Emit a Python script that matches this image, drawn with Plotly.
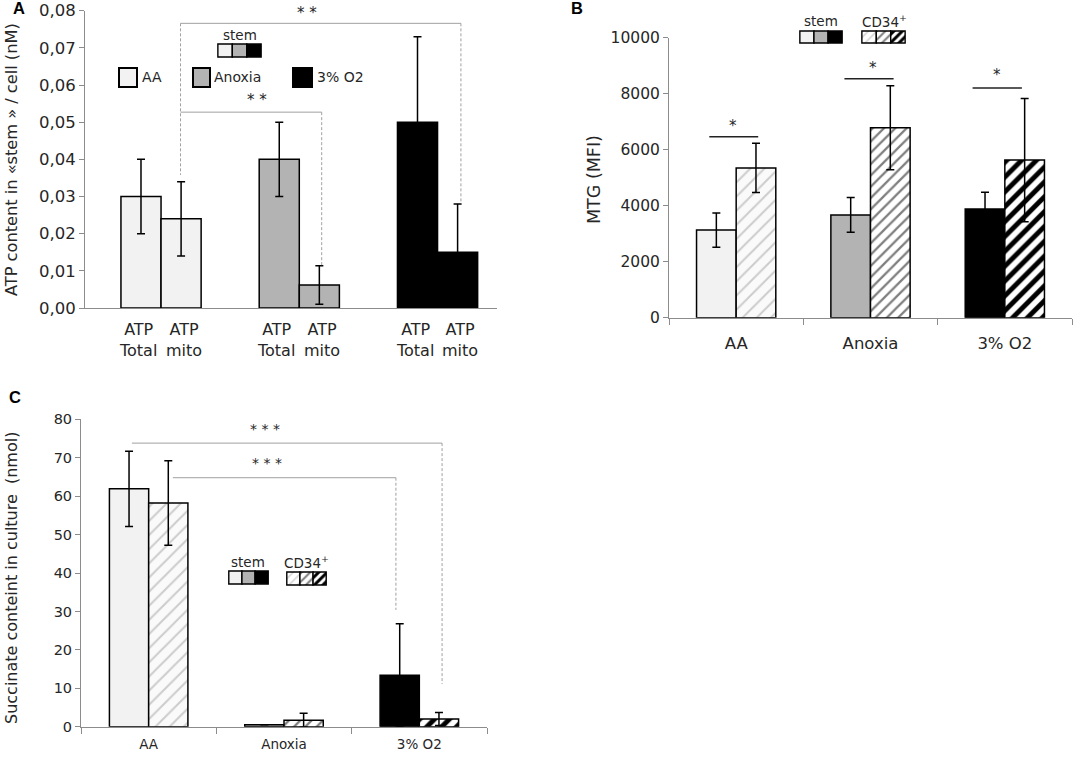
import plotly.graph_objects as go

W, H = 1077, 760

# ---------------- data ----------------
conditions = ["AA", "Anoxia", "3% O2"]

# panel A: ATP content in stem cells
atp_total = [0.030, 0.040, 0.050]
atp_total_err = [0.010, 0.010, 0.023]
atp_mito = [0.024, 0.0062, 0.015]
atp_mito_err = [0.010, 0.0052, 0.013]
atp_ticks = [0, 0.01, 0.02, 0.03, 0.04, 0.05, 0.06, 0.07, 0.08]

# panel B: MTG (MFI)
mtg_stem = [3130, 3670, 3880]
mtg_stem_err = [610, 620, 600]
mtg_cd34 = [5350, 6780, 5630]
mtg_cd34_err = [880, 1500, 2200]
mtg_ticks = [0, 2000, 4000, 6000, 8000, 10000]

# panel C: succinate content
succ_stem = [61.9, 0.5, 13.4]
succ_stem_err = [9.8, 0, 13.4]
succ_cd34 = [58.2, 1.7, 2.0]
succ_cd34_err = [11.0, 1.8, 1.7]
succ_ticks = [0, 10, 20, 30, 40, 50, 60, 70, 80]

# legend swatch cells
swatch_cells = [0, 1, 2]
swatch_fill = [1, 1, 1]

stem_colors = ["#f2f2f2", "#b3b3b3", "#000000"]
hatch_colors = ["#cccccc", "#7f7f7f", "#000000"]
hatch_bg = ["#fafafa", "#ffffff", "#ffffff"]
hatch_size = [10, 8, 10.5]
hatch_solid = [0.2, 0.28, 0.47]

FONT = "DejaVu Sans"
TXT = "#262626"
AXC = "#8c8c8c"
SIGC = "#a0a0a0"


def fx(p):
    return p / W


def fy(p):
    return 1 - p / H


bar_line = dict(color="black", width=1.5)
err = lambda a: dict(type="data", array=a, color="black", thickness=1.5, width=4)
hatch = dict(shape="/", fgcolor=hatch_colors, bgcolor=hatch_bg, size=hatch_size,
             solidity=hatch_solid, fgopacity=1)

fig = go.Figure()

# ---- A ----
fig.add_trace(go.Bar(x=conditions, y=atp_total, offset=-0.29, width=0.29,
                     marker=dict(color=stem_colors, line=bar_line),
                     error_y=err(atp_total_err), xaxis="x", yaxis="y"))
fig.add_trace(go.Bar(x=conditions, y=atp_mito, offset=0, width=0.29,
                     marker=dict(color=stem_colors, line=bar_line),
                     error_y=err(atp_mito_err), xaxis="x", yaxis="y"))

# ---- B ----
fig.add_trace(go.Bar(x=conditions, y=mtg_stem, offset=-0.295, width=0.295,
                     marker=dict(color=stem_colors, line=bar_line),
                     error_y=err(mtg_stem_err), xaxis="x2", yaxis="y2"))
fig.add_trace(go.Bar(x=conditions, y=mtg_cd34, offset=0, width=0.295,
                     marker=dict(color="white", line=bar_line, pattern=hatch),
                     error_y=err(mtg_cd34_err), xaxis="x2", yaxis="y2"))

# ---- C ----
fig.add_trace(go.Bar(x=conditions, y=succ_stem, offset=-0.29, width=0.29,
                     marker=dict(color=stem_colors, line=bar_line),
                     error_y=err(succ_stem_err), xaxis="x3", yaxis="y3"))
fig.add_trace(go.Bar(x=conditions, y=succ_cd34, offset=0, width=0.29,
                     marker=dict(color="white", line=bar_line, pattern=hatch),
                     error_y=err(succ_cd34_err), xaxis="x3", yaxis="y3"))

# ---- legend swatches (small bar strips) ----
swatches = [
    # (x0, x1, y0, y1, hatched)
    (217, 262, 43, 58, False),
    (799, 843, 30, 44, False),
    (861, 906, 30, 44, True),
    (228, 269, 570, 585, False),
    (286, 327, 571, 586, True),
]
layout_axes = {}
for i, (x0, x1, y0, y1, hatched) in enumerate(swatches):
    n = i + 4
    if hatched:
        mk = dict(color="white", line=dict(color="black", width=1.4),
                  pattern=dict(shape="/", fgcolor=hatch_colors, bgcolor="white",
                               size=[6, 6, 6], solidity=[0.22, 0.35, 0.5], fgopacity=1))
    else:
        mk = dict(color=stem_colors, line=dict(color="black", width=1.4))
    fig.add_trace(go.Bar(x=swatch_cells, y=swatch_fill, width=1, offset=-0.5,
                         marker=mk, xaxis=f"x{n}", yaxis=f"y{n}"))
    layout_axes[f"xaxis{n}"] = dict(domain=[fx(x0), fx(x1)], range=[-0.56, 2.56],
                                    visible=False, anchor=f"y{n}", fixedrange=True)
    layout_axes[f"yaxis{n}"] = dict(domain=[fy(y1), fy(y0)], range=[-0.08, 1.08],
                                    visible=False, anchor=f"x{n}", fixedrange=True)

yax = dict(showline=True, linecolor=AXC, linewidth=1, ticks="outside", ticklen=5,
           tickcolor=AXC, showgrid=False, zeroline=False, automargin=False,
           tickfont=dict(family=FONT, size=16.5, color=TXT))
xax = dict(showline=True, linecolor=AXC, linewidth=1, showgrid=False, zeroline=False,
           automargin=False, tickfont=dict(family=FONT, size=16, color=TXT))

fig.update_layout(
    width=W, height=H,
    margin=dict(l=0, r=0, t=0, b=0, autoexpand=False),
    paper_bgcolor="white", plot_bgcolor="white",
    showlegend=False, barmode="overlay", separators=",.",
    font=dict(family=FONT, color=TXT),
    xaxis=dict(xax, domain=[fx(85), fx(497)], range=[-0.55, 2.43], anchor="y",
               showticklabels=False, ticks=""),
    yaxis=dict(yax, domain=[fy(308), fy(10.7)], range=[0, 0.08], tickvals=atp_ticks,
               tickformat=".2f", anchor="x"),
    xaxis2=dict(xax, domain=[fx(669), fx(1072)], range=[-0.5, 2.5], anchor="y2",
                tickson="boundaries", ticks="outside", ticklen=6, tickcolor=AXC,
                ticklabelstandoff=10, tickfont=dict(family=FONT, size=16.5, color=TXT)),
    yaxis2=dict(yax, domain=[fy(317.7), fy(37.7)], range=[0, 10000], tickvals=mtg_ticks,
                tickformat="d", anchor="x2", tickfont=dict(family=FONT, size=15.5, color=TXT)),
    xaxis3=dict(xax, domain=[fx(81), fx(487)], range=[-0.5, 2.5], anchor="y3",
                tickson="boundaries", ticks="outside", ticklen=6, tickcolor=AXC,
                ticklabelstandoff=5, tickfont=dict(family=FONT, size=13.5, color=TXT)),
    yaxis3=dict(yax, domain=[fy(726.7), fy(419.3)], range=[0, 80], tickvals=succ_ticks,
                anchor="x3", tickfont=dict(family=FONT, size=14.5, color=TXT)),
    **layout_axes,
)

shapes = []


def seg(xr, yr, x0, y0, x1, y1, color=SIGC, dash="solid", width=1):
    shapes.append(dict(type="line", xref=xr, yref=yr, x0=x0, y0=y0, x1=x1, y1=y1,
                       line=dict(color=color, width=width, dash=dash)))


D = "3px,2px"
# A brackets
seg("x", "y", 0.141, 0.0766, 2.169, 0.0766)
seg("x", "y", 0.141, 0.0766, 0.141, 0.0358, dash=D)
seg("x", "y", 2.169, 0.0766, 2.169, 0.0285, dash=D)
seg("x", "y", 0.141, 0.0527, 1.162, 0.0527)
seg("x", "y", 1.162, 0.0527, 1.162, 0.0113, dash=D)

# B brackets
seg("x2", "y2", -0.20, 6464, 0.164, 6464, color="#222222", width=1.5)
seg("x2", "y2", 0.806, 8536, 1.172, 8536, color="#222222", width=1.5)
seg("x2", "y2", 1.76, 8200, 2.127, 8200, color="#222222", width=1.5)

# C brackets
seg("x3", "y3", -0.124, 73.8, 2.168, 73.8)
seg("x3", "y3", 2.168, 73.8, 2.168, 11.1, dash=D)
seg("x3", "y3", 0.179, 64.8, 1.827, 64.8)
seg("x3", "y3", 1.827, 64.8, 1.827, 30.4, dash=D)

# A legend squares
for (x0, x1), col in zip([(119, 137), (193, 210), (293, 312)], stem_colors):
    shapes.append(dict(type="rect", xref="paper", yref="paper",
                       x0=fx(x0), x1=fx(x1), y0=fy(87), y1=fy(68),
                       fillcolor=col, line=dict(color="black", width=2)))

fig.update_layout(shapes=shapes)

ann = []


def txt(x, y, s, size=15, xref="paper", yref="paper", xanchor="center", yanchor="middle",
        angle=0, bold=False, family=FONT):
    ann.append(dict(x=x, y=y, xref=xref, yref=yref, text=f"<b>{s}</b>" if bold else s,
                    showarrow=False, xanchor=xanchor, yanchor=yanchor, textangle=angle,
                    font=dict(family=family, size=size, color="black" if bold else TXT)))


# panel letters
txt(fx(19), fy(8), "A", size=16.5, bold=True, family="Liberation Sans")
txt(fx(577), fy(8), "B", size=16.5, bold=True, family="Liberation Sans")
txt(fx(15), fy(397), "C", size=16.5, bold=True, family="Liberation Sans")

# axis titles
txt(fx(11), fy(160), "ATP content in «stem » / cell (nM)", size=16.2, angle=-90)
txt(fx(594), fy(180), "MTG (MFI)", size=17.5, angle=-90)
txt(fx(11), fy(578), "Succinate conteint in culture  (nmol)", size=16, angle=-90)

# A category labels
for i in range(len(conditions)):
    txt(i - 0.165, fy(340), "ATP<br>Total", size=16, xref="x")
    txt(i + 0.165, fy(340), "ATP<br>mito", size=16, xref="x")

# A legend texts
txt(fx(140), fy(77), "AA", size=14, xanchor="left")
txt(fx(212), fy(77), "Anoxia", size=14, xanchor="left")
txt(fx(315), fy(77), "3% O2", size=14, xanchor="left")
txt(fx(240), fy(35), "stem", size=13.5)

# B / C legend texts
txt(fx(821), fy(21), "stem", size=13.5)
txt(fx(884), fy(21), "CD34<sup>+</sup>", size=13.5)
txt(fx(248), fy(562), "stem", size=13.5)
txt(fx(306), fy(562), "CD34<sup>+</sup>", size=13.5)

# significance stars
txt(1.056, 0.0793, "* *", size=15, xref="x", yref="y")
txt(0.697, 0.0559, "* *", size=15, xref="x", yref="y")
txt(-0.02, 6846, "*", size=15, xref="x2", yref="y2")
txt(1.015, 8907, "*", size=15, xref="x2", yref="y2")
txt(1.94, 8668, "*", size=15, xref="x2", yref="y2")
txt(0.863, 77.5, "* * *", size=14, xref="x3", yref="y3")
txt(0.878, 68.7, "* * *", size=14, xref="x3", yref="y3")

fig.update_layout(annotations=ann)

# page body margin would shift the 1077x760 figure; remove it
fig.write_html("out.html", config={"displayModeBar": False},
               post_script="document.body.style.margin='0';")
